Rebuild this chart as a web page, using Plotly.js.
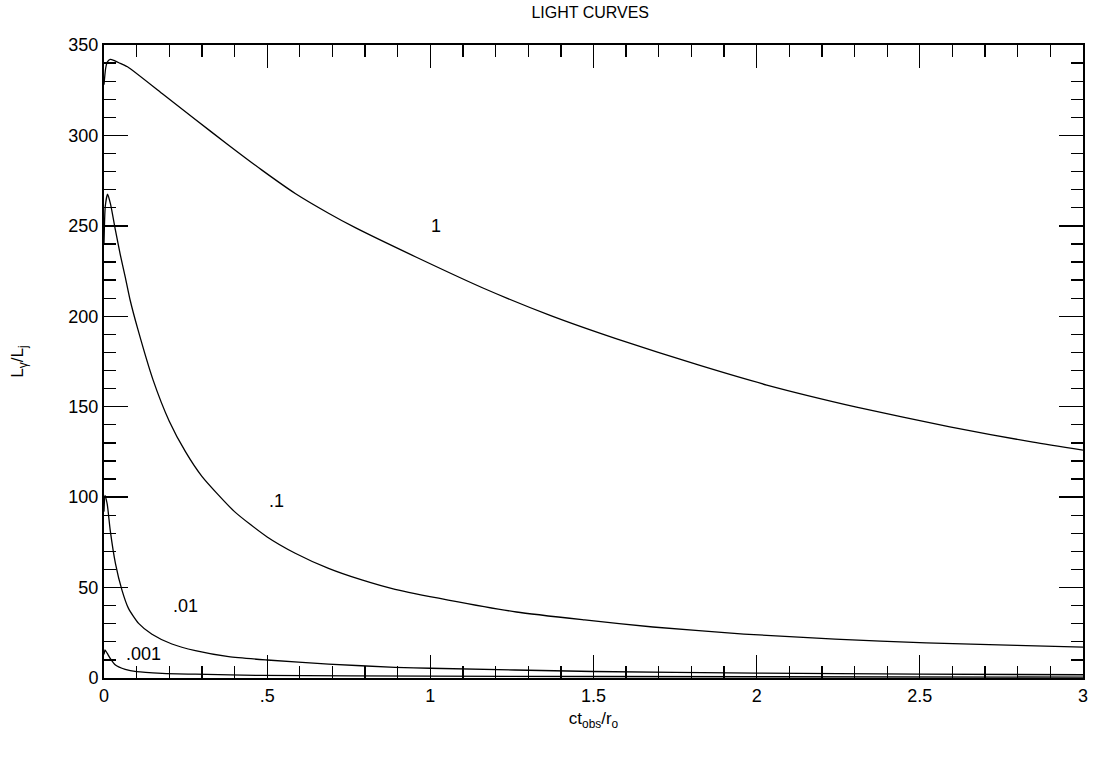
<!DOCTYPE html>
<html>
<head>
<meta charset="utf-8">
<script src="https://cdn.plot.ly/plotly-3.0.1.min.js"></script>
<style>html,body{margin:0;padding:0;background:#fff;}#chart{width:1093px;height:758px;}</style>
</head>
<body>
<div id="chart"></div>
<script>
// Curve "1"
const x1 = [0, 0.005, 0.01, 0.019, 0.03, 0.05, 0.075, 0.178, 0.28, 0.382, 0.484, 0.586, 0.688, 0.77, 0.959, 1.163, 1.367, 1.571, 1.826, 2.031, 2.306, 2.592, 2.847, 3.0];
const y1 = [328, 337, 340.5, 342, 341.5, 339.8, 337.6, 323.2, 308.8, 294.6, 280.8, 267.9, 257, 249, 232.5, 215.5, 200.5, 187.5, 172.8, 162, 149.8, 138.8, 130.4, 126];
// Curve ".1"
const x2 = [0, 0.004, 0.011, 0.02, 0.035, 0.05, 0.065, 0.08, 0.103, 0.15, 0.2, 0.25, 0.3, 0.4, 0.5, 0.586, 0.688, 0.79, 0.892, 1.055, 1.264, 1.473, 1.682, 1.961, 2.24, 2.519, 2.797, 3.0];
const y2 = [240, 261, 267.5, 262, 247.6, 234, 221.8, 209, 193.3, 165, 142, 125, 111.5, 92, 78, 69, 60.6, 54.2, 49, 43.1, 36.5, 32.1, 28.2, 24.3, 21.5, 19.4, 18.0, 17.1];
// Curve ".01"
const x3 = [0, 0.003, 0.01, 0.019, 0.035, 0.055, 0.075, 0.106, 0.147, 0.208, 0.28, 0.382, 0.5, 0.688, 0.892, 1.0, 1.5, 2.0, 2.5, 3.0];
const y3 = [92, 101, 96, 81.8, 63.4, 48.6, 38.5, 30.2, 24.2, 18.8, 15.1, 11.8, 9.95, 7.7, 5.9, 5.4, 3.6, 2.7, 2.1, 1.8];
// Curve ".001"
const x4 = [0, 0.003, 0.01, 0.019, 0.035, 0.065, 0.1, 0.178, 0.28, 0.48, 1.0, 2.0, 3.0];
const y4 = [13, 15.5, 13.6, 10.9, 7.2, 4.8, 3.5, 2.6, 2.1, 1.4, 1.0, 0.7, 0.5];

const curveLabels = ['1', '.1', '.01', '.001'];
const labelX = [1.018, 0.53, 0.25, 0.12];
const labelY = [250, 98, 40, 13];

const xTickVals = [0, 0.5, 1, 1.5, 2, 2.5, 3];
const xTickText = ['0', '.5', '1', '1.5', '2', '2.5', '3'];
const yTickVals = [0, 50, 100, 150, 200, 250, 300, 350];

const xs = [x1, x2, x3, x4];
const ys = [y1, y2, y3, y4];

const traces = xs.map((xv, i) => ({
  x: xv, y: ys[i], type: 'scatter', mode: 'lines',
  line: {color: '#000', width: 1.3, shape: 'spline', smoothing: 0.6},
  hoverinfo: 'skip', showlegend: false
}));

const font = {family: 'Liberation Sans, Arial, sans-serif', color: '#000'};

const layout = {
  width: 1093, height: 758,
  margin: {l: 104, r: 10, t: 45, b: 80},
  paper_bgcolor: '#fff', plot_bgcolor: '#fff',
  font: Object.assign({size: 18}, font),
  showlegend: false,
  title: {text: 'LIGHT CURVES', font: Object.assign({size: 16}, font), x: 0.54, xanchor: 'center', y: 0.983, yanchor: 'middle'},
  xaxis: {
    range: [0, 3], tickvals: xTickVals, ticktext: xTickText,
    showline: true, linecolor: '#000', linewidth: 2, mirror: 'allticks',
    ticks: 'inside', ticklen: 23, tickwidth: 1.3, tickcolor: '#000',
    minor: {dtick: 0.1, tick0: 0, ticks: 'inside', ticklen: 12, tickwidth: 1.3, tickcolor: '#000'},
    showgrid: false, zeroline: false,
    tickfont: Object.assign({size: 18}, font),
    title: {text: 'ct<sub>obs</sub>/r<sub>o</sub>', font: Object.assign({size: 17}, font), standoff: 8}
  },
  yaxis: {
    range: [0, 350], tickvals: yTickVals,
    showline: true, linecolor: '#000', linewidth: 2, mirror: 'allticks',
    ticks: 'inside', ticklen: 24, tickwidth: 1.3, tickcolor: '#000',
    minor: {dtick: 10, tick0: 0, ticks: 'inside', ticklen: 12, tickwidth: 1.3, tickcolor: '#000'},
    showgrid: false, zeroline: false,
    tickfont: Object.assign({size: 18}, font),
    title: {text: 'L<sub>γ</sub>/L<sub>j</sub>', font: Object.assign({size: 17}, font), standoff: 40}
  },
  annotations: curveLabels.map((t, i) => ({
    x: labelX[i], y: labelY[i], xref: 'x', yref: 'y', text: t, showarrow: false,
    font: Object.assign({size: 18}, font), xanchor: 'center', yanchor: 'middle'
  }))
};

Plotly.newPlot('chart', traces, layout, {staticPlot: true, displayModeBar: false});
</script>
</body>
</html>
